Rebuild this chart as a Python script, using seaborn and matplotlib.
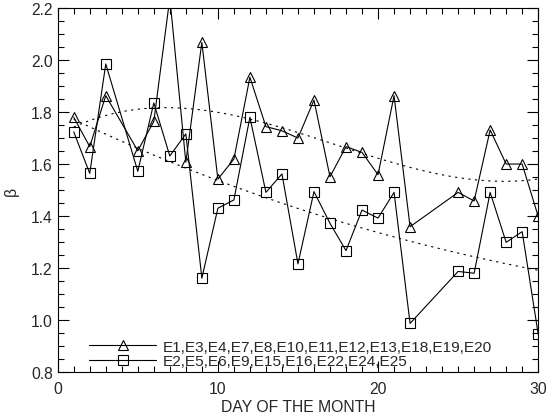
import numpy as np
import pandas as pd
import matplotlib
matplotlib.use("Agg")
import matplotlib.pyplot as plt
import seaborn as sns
from matplotlib.ticker import MultipleLocator

# ---- data ----
days_a = [1, 2, 3, 5, 6, 7, 8, 9, 10, 11, 12, 13, 14, 15, 16, 17, 18, 19, 20, 21, 22, 25, 26, 27, 28, 29, 30]
beta_a = [1.781, 1.668, 1.864, 1.652, 1.765, 2.24, 1.608, 2.069, 1.543, 1.620, 1.935, 1.745, 1.729, 1.701,
          1.847, 1.552, 1.668, 1.646, 1.560, 1.864, 1.360, 1.492, 1.459, 1.732, 1.601, 1.601, 1.400]
days_b = [1, 2, 3, 5, 6, 7, 8, 9, 10, 11, 12, 13, 14, 15, 16, 17, 18, 19, 20, 21, 22, 25, 26, 27, 28, 29, 30]
beta_b = [1.725, 1.565, 1.986, 1.573, 1.836, 1.632, 1.717, 1.162, 1.431, 1.463, 1.781, 1.492, 1.563, 1.217,
          1.495, 1.373, 1.268, 1.424, 1.393, 1.492, 0.988, 1.188, 1.181, 1.492, 1.300, 1.341, 0.947]
label_a = "E1,E3,E4,E7,E8,E10,E11,E12,E13,E18,E19,E20"
label_b = "E2,E5,E6,E9,E15,E16,E22,E24,E25"
x_label = "DAY OF THE MONTH"
y_label = "\u03b2"

sns.set_style("ticks")
plt.rcParams["font.family"] = ["Liberation Sans", "DejaVu Sans"]
plt.rcParams["font.size"] = 11

fig = plt.figure(figsize=(5.46, 4.14), dpi=100)
ax = fig.add_axes([0.1057, 0.0983, 0.880, 0.8792])

df_a = pd.DataFrame({"day": days_a, "beta": beta_a})
df_b = pd.DataFrame({"day": days_b, "beta": beta_b})

sns.lineplot(data=df_a, x="day", y="beta", ax=ax, color="black", lw=0.8,
             marker="^", markersize=7.5, markerfacecolor="none", markeredgecolor="black",
             markeredgewidth=0.8, label=label_a)
sns.lineplot(data=df_b, x="day", y="beta", ax=ax, color="black", lw=0.8,
             marker="s", markersize=6.5, markerfacecolor="none", markeredgecolor="black",
             markeredgewidth=0.8, label=label_b)

# polynomial fits (dotted)
xx = np.linspace(1, 30, 200)
fit_a = np.polyval(np.polyfit(days_a, beta_a, 3), xx)
fit_b = np.polyval(np.polyfit(days_b, beta_b, 3), xx)
sns.lineplot(x=xx, y=fit_a, ax=ax, color="black", lw=0.8, linestyle=(0, (2, 4)), legend=False)
sns.lineplot(x=xx, y=fit_b, ax=ax, color="black", lw=0.8, linestyle=(0, (2, 4)), legend=False)

ax.set_xlim(0, 30)
ax.set_ylim(0.8, 2.2)
ax.xaxis.set_major_locator(MultipleLocator(10))
ax.xaxis.set_minor_locator(MultipleLocator(1))
ax.yaxis.set_major_locator(MultipleLocator(0.2))
ax.yaxis.set_minor_locator(MultipleLocator(0.05))
ax.yaxis.set_major_formatter(matplotlib.ticker.FormatStrFormatter("%.1f"))
ax.tick_params(which="both", direction="in", top=True, right=True, width=0.8, color="black")
ax.tick_params(which="major", length=8, labelsize=11.3)
ax.tick_params(axis="x", which="major", pad=6.5)
ax.tick_params(axis="y", which="major", pad=3.5)
ax.tick_params(which="minor", length=4)
for s in ax.spines.values():
    s.set_linewidth(0.8)
    s.set_color("black")
    s.set_visible(True)

ax.set_xlabel(x_label, fontsize=11.3, labelpad=2)
ax.set_ylabel(y_label, fontsize=11.3, labelpad=9)

leg = ax.legend(loc="lower left", bbox_to_anchor=(0.066, 0.011), frameon=False,
                handlelength=4.3, handletextpad=0.45, labelspacing=0.05,
                borderpad=0, borderaxespad=0, fontsize=11.1)

fig.savefig("out.png", dpi=100)
